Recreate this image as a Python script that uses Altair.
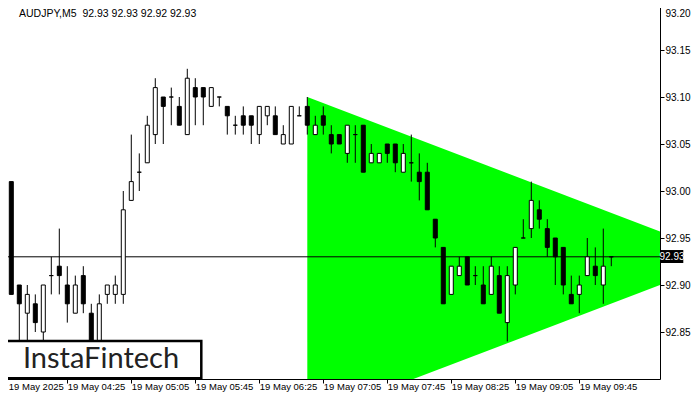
import json
import altair as alt
import pandas as pd

# ---- data ----
opens = [92.93, 93.01, 92.90, 92.87, 92.88, 92.85, 92.91, 92.92, 92.90, 92.87,
         92.91, 92.87, 92.84, 92.89, 92.89, 92.89, 92.99, 93.02, 93.03, 93.06,
         93.10, 93.10, 93.09, 93.06, 93.11, 93.11, 93.09, 93.10, 93.09, 93.07,
         93.08, 93.08, 93.06, 93.08, 93.08, 93.05, 93.05, 93.08, 93.09, 93.06,
         93.08, 93.06, 93.06, 93.04, 93.06, 93.07, 93.03, 93.03, 93.05, 93.05,
         93.02, 93.03, 93.02, 93.02, 92.97, 92.94, 92.89, 92.91, 92.93, 92.91,
         92.90, 92.89, 92.91, 92.86, 92.90, 92.95, 92.96, 92.98, 92.96, 92.95,
         92.94, 92.89, 92.89, 92.91, 92.92, 92.90, 92.93]
highs = [93.00, 93.01, 92.90, 92.90, 92.89, 92.90, 92.93, 92.96, 92.92, 92.91,
         92.92, 92.88, 92.89, 92.90, 92.91, 93.00, 93.06, 93.04, 93.08, 93.12,
         93.10, 93.11, 93.10, 93.13, 93.12, 93.11, 93.11, 93.10, 93.09, 93.08,
         93.09, 93.08, 93.09, 93.09, 93.09, 93.07, 93.09, 93.09, 93.10, 93.08,
         93.09, 93.07, 93.06, 93.07, 93.07, 93.07, 93.05, 93.04, 93.05, 93.05,
         93.05, 93.06, 93.04, 93.03, 92.97, 92.94, 92.92, 92.93, 92.93, 92.92,
         92.92, 92.93, 92.92, 92.92, 92.94, 92.97, 93.01, 92.99, 92.97, 92.95,
         92.94, 92.91, 92.91, 92.95, 92.94, 92.96, 92.93]
lows = [92.92, 92.89, 92.84, 92.84, 92.85, 92.84, 92.89, 92.89, 92.86, 92.87,
        92.87, 92.83, 92.83, 92.88, 92.88, 92.88, 92.99, 93.00, 93.03, 93.05,
        93.05, 93.07, 93.07, 93.06, 93.07, 93.07, 93.09, 93.09, 93.06, 93.06,
        93.06, 93.05, 93.05, 93.07, 93.06, 93.05, 93.05, 93.08, 93.06, 93.06,
        93.06, 93.04, 93.05, 93.03, 93.03, 93.02, 93.03, 93.03, 93.03, 93.02,
        93.02, 93.01, 92.99, 92.98, 92.94, 92.88, 92.89, 92.91, 92.90, 92.90,
        92.88, 92.89, 92.87, 92.84, 92.89, 92.95, 92.95, 92.96, 92.93, 92.90,
        92.89, 92.88, 92.87, 92.91, 92.90, 92.88, 92.92]
closes = [93.00, 92.89, 92.88, 92.89, 92.86, 92.90, 92.91, 92.91, 92.88, 92.90,
          92.88, 92.84, 92.88, 92.90, 92.90, 92.98, 93.01, 93.02, 93.07, 93.11,
          93.09, 93.10, 93.07, 93.12, 93.10, 93.10, 93.11, 93.10, 93.08, 93.07,
          93.07, 93.07, 93.09, 93.09, 93.06, 93.06, 93.09, 93.08, 93.07, 93.07,
          93.07, 93.05, 93.05, 93.07, 93.06, 93.02, 93.04, 93.04, 93.04, 93.03,
          93.04, 93.03, 93.01, 92.98, 92.95, 92.88, 92.92, 92.92, 92.90, 92.91,
          92.88, 92.92, 92.87, 92.91, 92.94, 92.95, 92.99, 92.97, 92.94, 92.93,
          92.90, 92.88, 92.90, 92.93, 92.91, 92.92, 92.93]

tick_positions = [0, 8, 16, 24, 32, 40, 48, 56, 64, 72]
tick_labels = ["19 May 2025", "19 May 04:25", "19 May 05:05", "19 May 05:45",
               "19 May 06:25", "19 May 07:05", "19 May 07:45", "19 May 08:25",
               "19 May 09:05", "19 May 09:45"]
price_ticks = [92.85, 92.90, 92.95, 93.00, 93.05, 93.10, 93.15, 93.20]

# symmetric triangle pattern (start / end of its two lines)
tri_x = [38, 82.1]
tri_upper = [93.100, 92.957]
tri_lower = [92.757, 92.900]

last_price = 92.93
title_text = "AUDJPY,M5\u00a0\u00a092.93 92.93 92.92 92.93"

# ---- tables ----
candles = pd.DataFrame({
    "i": list(range(len(opens))),
    "o": opens, "h": highs, "l": lows, "c": closes,
})
tri = pd.DataFrame({"x": tri_x, "up": tri_upper, "lo": tri_lower})

W, H = 658, 379
FONT = "Liberation Sans"

xs = alt.Scale(domain=[-0.1625, 82.09], nice=False, zero=False, padding=0)
ys = alt.Scale(domain=[92.8, 93.2032], nice=False, zero=False, padding=0)

label_expr = json.dumps(tick_labels) + "[round(datum.value / 8)]"

x_axis = alt.Axis(values=tick_positions, labelExpr=label_expr, title=None,
                  grid=False, labelAlign="left", labelFontSize=9.5, labelFont=FONT,
                  labelColor="black", tickColor="black", domainColor="black",
                  tickSize=4, labelPadding=-2, labelOverlap=False, labelFlush=False,
                  labelBaseline="top",
                  labelOffset={"condition": {"test": "datum.value < 1", "value": 5},
                               "value": 0})
y_axis = alt.Axis(values=price_ticks, format=".2f", orient="right", title=None,
                  grid=False, labelFontSize=10, labelFont=FONT, labelColor="black",
                  tickColor="black", domainColor="black", tickSize=4,
                  labelPadding=1, labelOverlap=False, labelFlush=False,
                  labelBaseline={"condition": {"test": "datum.value >= 93.19", "value": "top"},
                                 "value": "middle"},
                  labelOffset={"condition": {"test": "datum.value >= 93.19", "value": 5},
                               "value": 0})

base = alt.Chart(candles)

triangle = alt.Chart(tri).mark_area(color="#00FF00", opacity=1, clip=True).encode(
    x=alt.X("x:Q", scale=xs, axis=x_axis),
    y=alt.Y("lo:Q", scale=ys, axis=y_axis),
    y2="up:Q",
)

price_line = alt.Chart(pd.DataFrame({"p": [last_price]})).mark_rule(
    color="black", strokeWidth=1).encode(
    y=alt.Y("p:Q", scale=ys),
    x=alt.value(0), x2=alt.value(W),
)

wicks = base.mark_rule(color="black", strokeWidth=1).encode(
    x=alt.X("i:Q", scale=xs),
    y=alt.Y("l:Q", scale=ys),
    y2="h:Q",
)

bodies = base.mark_bar(width=4, stroke="black", strokeWidth=1).encode(
    x=alt.X("i:Q", scale=xs),
    y=alt.Y("o:Q", scale=ys),
    y2="c:Q",
    fill=alt.condition("datum.c >= datum.o", alt.value("white"), alt.value("black")),
)

# logo box
logo_box = alt.Chart(pd.DataFrame({"a": [0]})).mark_rect(
    fill="white", stroke="black", strokeWidth=2.5).encode(
    x=alt.value(0.7), x2=alt.value(199.3), y=alt.value(341), y2=alt.value(378.3))
logo_text = alt.Chart(pd.DataFrame({"t": ["InstaFintech"]})).mark_text(
    font="Lato", fontSize=29, color="#222222", align="center", baseline="middle").encode(
    text="t:N", x=alt.value(99), y=alt.value(359))

title = alt.Chart(pd.DataFrame({"t": [title_text]})).mark_text(
    font=FONT, fontSize=10.5, color="black", align="left", baseline="middle").encode(
    text="t:N", x=alt.value(17), y=alt.value(14))

# current price box on the right axis
pbox = alt.Chart(pd.DataFrame({"a": [92.9372], "b": [92.9234]})).mark_rect(
    fill="black").encode(
    x=alt.value(W + 0.7), x2=alt.value(W + 23.3),
    y=alt.Y("a:Q", scale=ys), y2="b:Q")
ptext = alt.Chart(pd.DataFrame({"p": [last_price], "t": ["92.93"]})).mark_text(
    font=FONT, fontSize=10, color="white", align="center", baseline="middle").encode(
    text="t:N", x=alt.value(W + 12), y=alt.Y("p:Q", scale=ys))

chart = alt.layer(triangle, price_line, wicks, bodies, logo_box, logo_text,
                  title, pbox, ptext).properties(
    width=W, height=H,
    autosize=alt.AutoSizeParams(type="none"),
    padding={"left": -6, "top": -8, "right": 32, "bottom": 13},
).configure_view(stroke="black", strokeWidth=1).configure(background="white")

chart.save("out.html", embed_options={"renderer": "svg", "actions": False})
